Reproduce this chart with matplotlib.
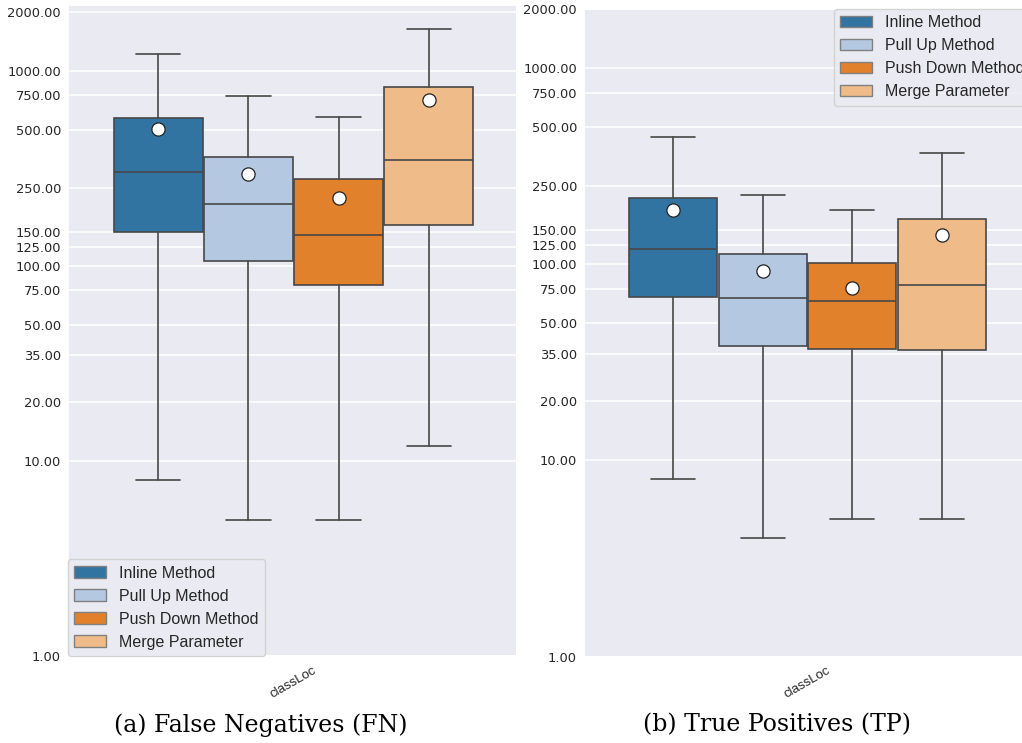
import colorsys
import matplotlib
matplotlib.use('Agg')
import matplotlib.pyplot as plt
import matplotlib.colors as mcolors
from matplotlib.patches import Patch, Rectangle
from matplotlib.ticker import FixedLocator, FixedFormatter, NullLocator
import seaborn as sns

# Values (log scale)
methods = ['Inline Method', 'Pull Up Method', 'Push Down Method', 'Merge Parameter']

fn_whislo = [8, 5, 5, 12]
fn_q1 = [150, 106, 80, 162]
fn_med = [303, 208, 145, 348]
fn_q3 = [575, 362, 280, 828]
fn_whishi = [1218, 741, 578, 1642]
fn_mean = [506, 296, 224, 708]

tp_whislo = [8, 4, 5, 5]
tp_q1 = [68, 38.3, 36.9, 36.5]
tp_med = [120, 67, 65, 78]
tp_q3 = [218, 113, 101, 170]
tp_whishi = [446, 225, 190, 371]
tp_mean = [189, 92, 76, 141]

yticks = [1, 10, 20, 35, 50, 75, 100, 125, 150, 250, 500, 750, 1000, 2000]
category = 'classLoc'

sns.set_theme(style='darkgrid')
plt.rcParams['font.family'] = ['DejaVu Sans']


def desat(c, prop=0.75):
    r, g, b = mcolors.to_rgb(c)
    h, l, s = colorsys.rgb_to_hls(r, g, b)
    return colorsys.hls_to_rgb(h, l, s * prop)


base = plt.get_cmap('tab20').colors[:4]
colors = [desat(c) for c in base]
edge = '#474747'

W, H = 1022, 743
fig = plt.figure(figsize=(W / 100, H / 100), dpi=100)


def box_panel(rect, ylim, whislo, q1, med, q3, whishi, mean):
    ax = fig.add_axes([rect[0] / W, 1 - rect[3] / H, (rect[2] - rect[0]) / W, (rect[3] - rect[1]) / H])
    stats = []
    for i in range(len(methods)):
        stats.append(dict(whislo=whislo[i], q1=q1[i], med=med[i], q3=q3[i],
                          whishi=whishi[i], mean=mean[i], fliers=[]))
    pos = [(i - 1.5) * 0.2 for i in range(len(methods))]
    bp = ax.bxp(stats, positions=pos, widths=0.197, patch_artist=True, showmeans=True,
                showfliers=False, manage_ticks=False,
                boxprops=dict(edgecolor=edge, linewidth=1.2),
                medianprops=dict(color=edge, linewidth=1.2),
                whiskerprops=dict(color=edge, linewidth=1.2),
                capprops=dict(color=edge, linewidth=1.2),
                meanprops=dict(marker='o', markerfacecolor='white', markeredgecolor='#222222',
                               markersize=9.5, markeredgewidth=0.9))
    for patch, c in zip(bp['boxes'], colors):
        patch.set_facecolor(c)
    ax.set_yscale('log')
    ax.set_ylim(*ylim)
    ax.set_xlim(-0.5, 0.5)
    ax.yaxis.set_major_locator(FixedLocator(yticks))
    ax.yaxis.set_major_formatter(FixedFormatter(['%.2f' % t for t in yticks]))
    ax.yaxis.set_minor_locator(NullLocator())
    ax.set_xticks([0])
    ax.set_xticklabels([category], rotation=30, fontsize=9.5, family='Liberation Sans')
    ax.tick_params(axis='y', labelsize=9.4, length=0, pad=5)
    ax.tick_params(axis='x', length=0, pad=6)
    ax.xaxis.grid(False)
    ax.yaxis.grid(True, color='white', linewidth=1.1)
    handles = [Patch(facecolor=c, edgecolor='#808080', label=m) for c, m in zip(colors, methods)]
    return ax, handles


ax1, h1 = box_panel((68, 4.7, 519, 656), (1, 2190), fn_whislo, fn_q1, fn_med, fn_q3, fn_whishi, fn_mean)
ax1.legend(handles=h1, loc='lower left', borderaxespad=0,
           prop=dict(family='Liberation Sans', size=11.5), frameon=True)

# white gap where the second image starts
gap = Rectangle((516 / W, 0), 70 / W, 1, transform=fig.transFigure, facecolor='white',
                edgecolor='none', zorder=1)
fig.patches.append(gap)

ax2, h2 = box_panel((584, 9, 1031, 656.5), (1, 2002), tp_whislo, tp_q1, tp_med, tp_q3, tp_whishi, tp_mean)
ax2.set_zorder(2)
ax2.legend(handles=h2, loc='upper right', borderaxespad=0,
           prop=dict(family='Liberation Sans', size=11.5), frameon=True)

fig.text(261 / W, 1 - 725 / H, '(a) False Negatives (FN)', family='DejaVu Serif', fontsize=17,
         ha='center', va='center', color='black')
fig.text(777 / W, 1 - 725 / H, '(b) True Positives (TP)', family='DejaVu Serif', fontsize=17,
         ha='center', va='center', color='black')

fig.savefig('out.png', dpi=100)
